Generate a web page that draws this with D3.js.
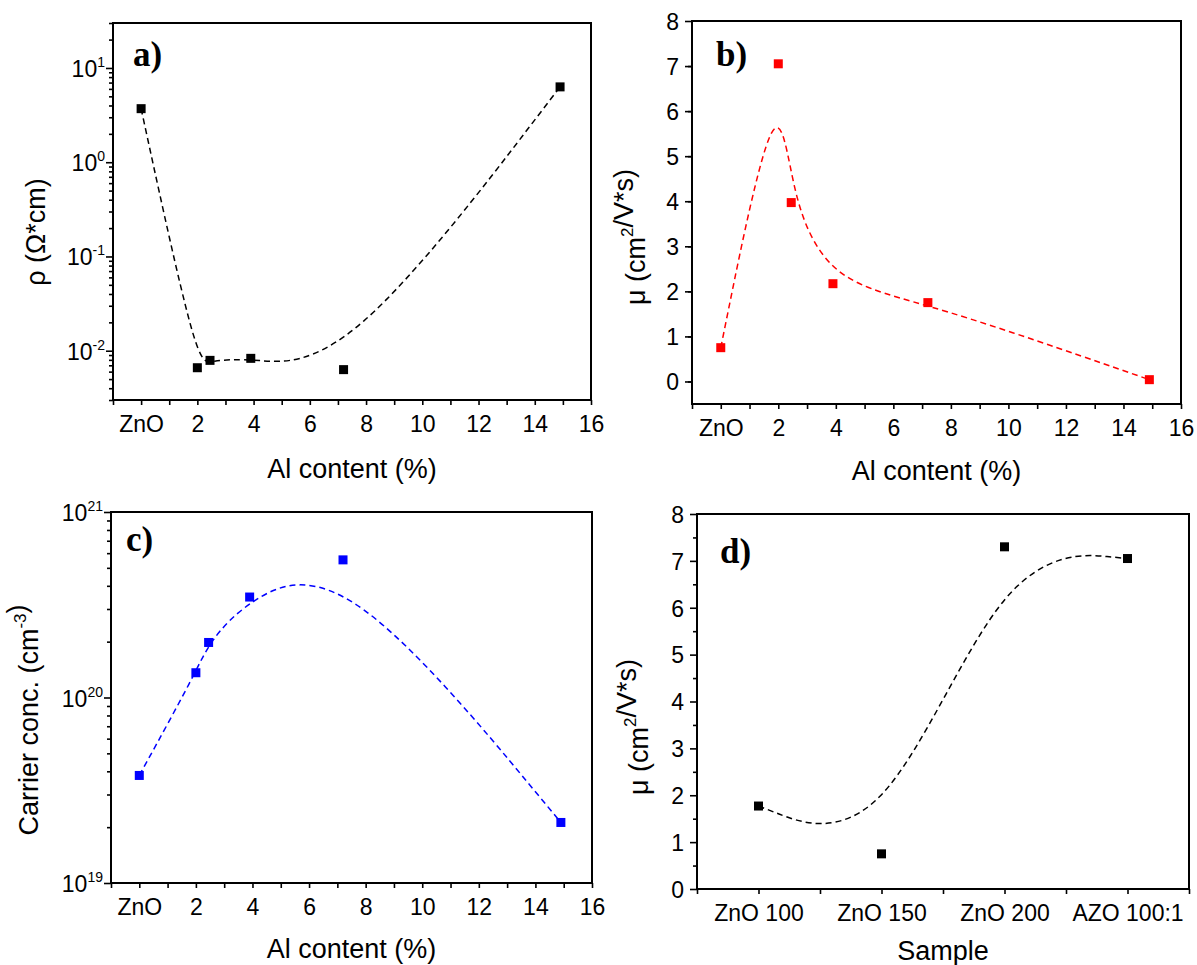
<!DOCTYPE html>
<html>
<head>
<meta charset="utf-8">
<script src="https://cdn.jsdelivr.net/npm/d3@7"></script>
<style>
  body { margin: 0; background: #fff; }
  svg { display: block; background: #fff; }
  text { font-family: "Liberation Sans", Arial, sans-serif; fill: #000; }
</style>
</head>
<body>
<svg id="fig" width="1197" height="965"></svg>
<script>
// Al doping series (ZnO = undoped reference at 0 %)
const alContent = [0, 2, 2.45, 3.9, 7.2, 14.9];
const alTicks = [0, 2, 4, 6, 8, 10, 12, 14, 16];
const alTickLabels = ["ZnO", "2", "4", "6", "8", "10", "12", "14", "16"];

// a) resistivity, Ω·cm
const resistivity = [3.7, 0.0066, 0.0079, 0.0083, 0.0063, 6.3];
// b) Hall mobility, cm²/V·s
const mobility = [0.75, 7.05, 3.97, 2.17, 1.75, 0.04];
// c) carrier concentration, cm⁻³
const carrierConc = [3.8e19, 1.36e20, 1.98e20, 3.48e20, 5.52e20, 2.12e19];
// d) mobility per sample
const samples = ["ZnO 100", "ZnO 150", "ZnO 200", "AZO 100:1"];
const sampleMobility = [1.77, 0.75, 7.3, 7.05];

const svg = d3.select("#fig");
const TICK_FONT = 23, TITLE_FONT = 27;

function frame(g, b) {
  g.append("rect")
    .attr("x", b.left).attr("y", b.top)
    .attr("width", b.right - b.left).attr("height", b.bottom - b.top)
    .attr("fill", "none").attr("stroke", "#000").attr("stroke-width", 2);
}

function styleAxis(sel) {
  sel.select(".domain").remove();
  sel.selectAll(".tick line").attr("stroke", "#000").attr("stroke-width", 1.6);
  sel.selectAll(".tick text").attr("font-size", TICK_FONT)
    .style("font-family", '"Liberation Sans", Arial, sans-serif');
}

function alXAxis(g, x, b) {
  const ax = g.append("g").attr("transform", `translate(0,${b.bottom})`)
    .call(d3.axisBottom(x).tickValues(d3.range(-1, 17)).tickSize(5).tickPadding(5)
      .tickFormat(d => { const i = alTicks.indexOf(d); return i < 0 ? "" : alTickLabels[i]; }));
  styleAxis(ax);
  ax.selectAll(".tick text").attr("dy", null).attr("y", 32);
}

function linearYAxis(g, y, b, lo, hi) {
  const minor = g.append("g").attr("transform", `translate(${b.left},0)`)
    .call(d3.axisLeft(y).tickValues(d3.range(lo + 0.5, hi, 1)).tickSize(4).tickFormat(""));
  styleAxis(minor);
  const major = g.append("g").attr("transform", `translate(${b.left},0)`)
    .call(d3.axisLeft(y).tickValues(d3.range(Math.ceil(lo), hi + 0.001, 1)).tickSize(7).tickPadding(6)
      .tickFormat(d3.format("d")));
  styleAxis(major);
  major.selectAll(".tick text").attr("dy", "0.36em");
}

function logYAxis(g, y, b, decades) {
  const [d0, d1] = y.domain();
  const minorVals = [];
  for (let e = Math.floor(Math.log10(d0)); e <= Math.ceil(Math.log10(d1)); e++) {
    for (let m = 2; m <= 9; m++) {
      const v = m * Math.pow(10, e);
      if (v >= d0 && v <= d1) minorVals.push(v);
    }
  }
  const minor = g.append("g").attr("transform", `translate(${b.left},0)`)
    .call(d3.axisLeft(y).tickValues(minorVals).tickSize(4).tickFormat(""));
  styleAxis(minor);
  const major = g.append("g").attr("transform", `translate(${b.left},0)`)
    .call(d3.axisLeft(y).tickValues(decades.map(e => Math.pow(10, e))).tickSize(7).tickFormat(""));
  styleAxis(major);
  decades.forEach(e => {
    const t = g.append("text")
      .attr("x", b.left - 8).attr("y", y(Math.pow(10, e)) + 9)
      .attr("text-anchor", "end").attr("font-size", TICK_FONT);
    t.append("tspan").text("10");
    t.append("tspan").attr("font-size", 14).attr("dy", -10).text(String(e));
  });
}

function yTitle(g, x, yc, parts) {
  const t = g.append("text")
    .attr("transform", `translate(${x},${yc}) rotate(-90)`)
    .attr("text-anchor", "middle").attr("font-size", TITLE_FONT);
  parts.forEach(p => {
    if (p.sup) {
      t.append("tspan").attr("font-size", 17).attr("dy", -12).text(p.sup);
      t.append("tspan").attr("dy", 12).text("");
    } else {
      t.append("tspan").text(p.t);
    }
  });
}

function xTitle(g, b, y, label) {
  g.append("text").attr("x", (b.left + b.right) / 2).attr("y", y)
    .attr("text-anchor", "middle").attr("font-size", TITLE_FONT).text(label);
}

function panelLetter(g, x, y, s) {
  g.append("text").attr("x", x).attr("y", y)
    .attr("font-size", 35).attr("font-weight", "bold")
    .style("font-family", '"Liberation Serif", "Times New Roman", serif')
    .text(s);
}

function series(g, pts, color) {
  g.append("path").datum(pts)
    .attr("d", d3.line().x(d => d[0]).y(d => d[1]).curve(d3.curveBasis))
    .attr("fill", "none").attr("stroke", color).attr("stroke-width", 1.5)
    .attr("stroke-dasharray", "6,4");
  g.selectAll(null).data(pts).enter().append("rect")
    .attr("x", d => d[0] - 4.5).attr("y", d => d[1] - 4.5)
    .attr("width", 9).attr("height", 9).attr("fill", color);
}

// ---------- a) resistivity ----------
{
  const b = { left: 113, right: 591, top: 23, bottom: 400 };
  const g = svg.append("g");
  const x = d3.scaleLinear().domain([-1, 16]).range([b.left, b.right]);
  const y = d3.scaleLog().domain([0.003, 30]).range([b.bottom, b.top]);
  alXAxis(g, x, b);
  logYAxis(g, y, b, [-2, -1, 0, 1]);
  frame(g, b);
  series(g, alContent.map((v, i) => [x(v), y(resistivity[i])]), "#000");
  xTitle(g, b, 478, "Al content (%)");
  yTitle(g, 45, 232, [{ t: "ρ (Ω*cm)" }]);
  panelLetter(g, 133, 66, "a)");
}

// ---------- b) mobility vs Al ----------
{
  const b = { left: 692, right: 1181, top: 21, bottom: 404 };
  const g = svg.append("g");
  const x = d3.scaleLinear().domain([-1, 16]).range([b.left, b.right]);
  const y = d3.scaleLinear().domain([-0.5, 8]).range([b.bottom, b.top]);
  alXAxis(g, x, b);
  linearYAxis(g, y, b, -0.5, 8);
  frame(g, b);
  series(g, alContent.map((v, i) => [x(v), y(mobility[i])]), "#ff0000");
  xTitle(g, b, 480, "Al content (%)");
  yTitle(g, 645, 237, [{ t: "μ (cm" }, { sup: "2" }, { t: "/V*s)" }]);
  panelLetter(g, 716, 66, "b)");
}

// ---------- c) carrier concentration ----------
{
  const b = { left: 111, right: 592, top: 512, bottom: 883 };
  const g = svg.append("g");
  const x = d3.scaleLinear().domain([-1, 16]).range([b.left, b.right]);
  const y = d3.scaleLog().domain([1e19, 1e21]).range([b.bottom, b.top]);
  alXAxis(g, x, b);
  logYAxis(g, y, b, [19, 20, 21]);
  frame(g, b);
  series(g, alContent.map((v, i) => [x(v), y(carrierConc[i])]), "#0000ff");
  xTitle(g, b, 958, "Al content (%)");
  yTitle(g, 38, 720, [{ t: "Carrier conc. (cm" }, { sup: "-3" }, { t: ")" }]);
  panelLetter(g, 126, 551, "c)");
}

// ---------- d) mobility per sample ----------
{
  const b = { left: 697, right: 1189, top: 514, bottom: 889 };
  const g = svg.append("g");
  const x = d3.scalePoint().domain(samples).range([b.left, b.right]).padding(0.5);
  const y = d3.scaleLinear().domain([0, 8]).range([b.bottom, b.top]);
  const step = x.step();
  const between = d3.range(samples.length + 1).map(i => b.left + i * step);
  const minor = g.append("g").attr("transform", `translate(0,${b.bottom})`)
    .call(d3.axisBottom(d3.scaleIdentity()).tickValues(between).tickSize(5).tickFormat(""));
  styleAxis(minor);
  const major = g.append("g").attr("transform", `translate(0,${b.bottom})`)
    .call(d3.axisBottom(x).tickSize(5));
  styleAxis(major);
  major.selectAll(".tick text").attr("dy", null).attr("y", 32);
  linearYAxis(g, y, b, 0, 8);
  frame(g, b);
  series(g, samples.map((s, i) => [x(s), y(sampleMobility[i])]), "#000");
  xTitle(g, b, 960, "Sample");
  yTitle(g, 648, 727, [{ t: "μ (cm" }, { sup: "2" }, { t: "/V*s)" }]);
  panelLetter(g, 720, 563, "d)");
}
</script>
</body>
</html>
